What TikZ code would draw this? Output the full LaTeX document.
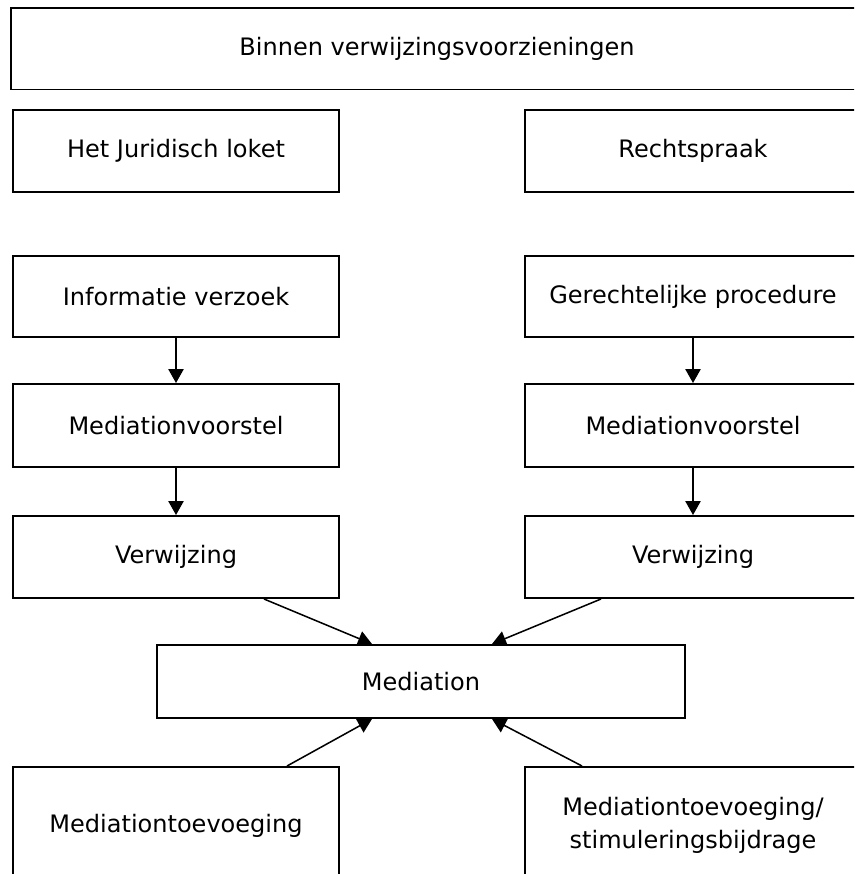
\documentclass[tikz,border=0pt]{standalone}
\usepackage{fontspec}
\setmainfont{DejaVu Sans}
\usetikzlibrary{arrows.meta}
\tikzset{
    vak/.style={draw,line width=1.7pt,inner sep=0pt,minimum height=2.46cm,
        align=center,font=\fontsize{20.5}{28}\selectfont},
    links/.style={vak,minimum width=9.78cm},
    rechts/.style={vak,minimum width=10.08cm},
    pijl/.style={line width=1.3pt,-{Triangle[length=0.42cm,width=0.46cm]}}
}

\begin{document}
\begin{tikzpicture}
    \useasboundingbox (0,0) rectangle (25.62,-26.22);
    \clip (0,0) rectangle (25.62,-26.22);
    % kop
    \node [vak,minimum width=25.56cm,minimum height=2.43cm] (kop) at (13.11,-1.47) {Binnen verwijzingsvoorzieningen};
    % linker kolom
    \node [links] (loket) at (5.28,-4.53) {Het Juridisch loket};
    \node [links,minimum height=2.43cm] (infoL) at (5.28,-8.895) {Informatie verzoek};
    \node [links,minimum height=2.49cm] (voorL) at (5.28,-12.765) {Mediationvoorstel};
    \node [links] (verwL) at (5.28,-16.71) {Verwijzing};
    \node [links,minimum height=3.51cm] (toevL) at (5.28,-24.765) {Mediationtoevoeging};
    % rechter kolom
    \node [rechts] (recht) at (20.79,-4.53) {Rechtspraak};
    \node [rechts,minimum height=2.43cm] (procR) at (20.79,-8.895) {Gerechtelijke procedure};
    \node [rechts,minimum height=2.49cm] (voorR) at (20.79,-12.765) {Mediationvoorstel};
    \node [rechts] (verwR) at (20.79,-16.71) {Verwijzing};
    \node [rechts,minimum height=3.51cm] (toevR) at (20.79,-24.765) {Mediationtoevoeging/\\stimuleringsbijdrage};
    % midden
    \node [vak,minimum width=15.84cm,minimum height=2.19cm] (med) at (12.63,-20.445) {Mediation};
    % pijlen
    \draw [pijl] (infoL) -- (voorL);
    \draw [pijl] (voorL) -- (verwL);
    \draw [pijl] (procR) -- (voorR);
    \draw [pijl] (voorR) -- (verwR);
    \draw [pijl] ([xshift=2.64cm]verwL.south) -- ([xshift=-1.47cm]med.north);
    \draw [pijl] ([xshift=-2.76cm]verwR.south) -- ([xshift=2.13cm]med.north);
    \draw [pijl] ([xshift=3.33cm]toevL.north) -- ([xshift=-1.47cm]med.south);
    \draw [pijl] ([xshift=-3.33cm]toevR.north) -- ([xshift=2.13cm]med.south);
\end{tikzpicture}
\end{document}
